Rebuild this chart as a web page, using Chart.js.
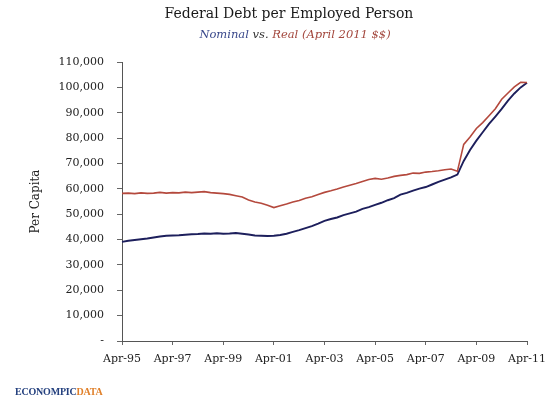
<!DOCTYPE html>
<html>
<head>
<meta charset="utf-8">
<title>Federal Debt per Employed Person</title>
<script src="https://cdn.jsdelivr.net/npm/chart.js@4.4.1/dist/chart.umd.min.js"></script>
<style>
  body { margin: 0; background: #fff; }
  #wrap { position: relative; width: 548px; height: 402px; overflow: hidden; }
  #chart { position: absolute; left: 0; top: 0; }
  .txt { position: absolute; white-space: nowrap; font-family: "DejaVu Serif", serif; }
  #title { left: 0; width: 578px; top: 5px; text-align: center; font-size: 14px; color: #1a1a1a; }
  #subtitle { left: 0; width: 590px; top: 27px; text-align: center; font-size: 11.5px; font-style: italic; color: #333; }
  #subtitle .nom { color: #3b4a8c; }
  #subtitle .real { color: #a3473d; }
  #logo { left: 15px; top: 386px; font-family: "Liberation Serif", serif; font-weight: bold; font-size: 10px; letter-spacing: -0.2px; color: #24407e; }
  #logo .data { color: #e0802a; }
</style>
</head>
<body>
<div id="wrap">
  <canvas id="chart" width="548" height="402"></canvas>
  <div class="txt" id="title">Federal Debt per Employed Person</div>
  <div class="txt" id="subtitle"><span class="nom">Nominal</span> vs. <span class="real">Real (April 2011 $$)</span></div>
  <div class="txt" id="logo">ECONOMPIC<span class="data">DATA</span></div>
</div>

<script>
// --- DATA (quarterly) ---
const months = ["Apr", "Jul", "Oct", "Jan"];
const labels = [];
for (let i = 0; i <= 64; i++) {
  const m = months[i % 4];
  const yr = 95 + Math.floor((i + 3) / 4);
  labels.push(m + "-" + String(yr % 100).padStart(2, "0"));
}

const nominal = [
  39100, 39500, 39800, 40100, 40400, 40800, 41200, 41500,
  41600, 41700, 41900, 42100, 42200, 42400, 42300, 42500,
  42300, 42400, 42600, 42300, 42000, 41600, 41500, 41400,
  41500, 41800, 42300, 43000, 43700, 44500, 45300, 46300,
  47400, 48100, 48700, 49600, 50300, 51000, 52100, 52800,
  53700, 54500, 55500, 56300, 57700, 58400, 59300, 60100,
  60700, 61700, 62700, 63600, 64500, 65600, 71000, 75300,
  79000, 82300, 85600, 88500, 91500, 94800, 97600, 100000,
  101800,
];

const real = [
  58200, 58300, 58100, 58400, 58200, 58300, 58600, 58300,
  58500, 58400, 58700, 58500, 58700, 58900, 58500, 58300,
  58100, 57800, 57300, 56800, 55600, 54800, 54300, 53500,
  52600, 53300, 54000, 54800, 55400, 56300, 56900, 57800,
  58600, 59200, 59900, 60700, 61400, 62100, 62900, 63700,
  64100, 63800, 64300, 64900, 65300, 65600, 66200, 66100,
  66600, 66800, 67100, 67500, 67800, 66900, 77500, 80400,
  83800, 86100, 88800, 91600, 95300, 97800, 100200, 102000,
  101900,
];

const yMax = 110000;
const yStep = 10000;

const tickFont = { family: "DejaVu Serif", size: 11 };

new Chart(document.getElementById("chart"), {
  type: "line",
  data: {
    labels: labels,
    datasets: [
      {
        label: "Real",
        data: real,
        borderColor: "#b4493d",
        borderWidth: 1.6,
        pointRadius: 0,
        tension: 0,
      },
      {
        label: "Nominal",
        data: nominal,
        borderColor: "#1d1f5c",
        borderWidth: 1.9,
        pointRadius: 0,
        tension: 0,
      },
    ],
  },
  options: {
    responsive: false,
    animation: false,
    layout: { padding: { left: 29, right: 21, top: 62, bottom: 31 } },
    plugins: {
      legend: { display: false },
      tooltip: { enabled: false },
    },
    scales: {
      x: {
        grid: { drawOnChartArea: false, tickLength: 4, color: "#666" },
        border: { color: "#555", width: 1 },
        ticks: {
          autoSkip: false,
          maxRotation: 0,
          padding: 8,
          color: "#222",
          font: tickFont,
          callback: function (value, index) {
            return index % 8 === 0 ? this.getLabelForValue(value) : null;
          },
        },
        afterFit: (s) => {
          s.height = 30;
          s.paddingLeft = 0;
          s.paddingRight = 0;
        },
      },
      y: {
        min: 0,
        max: yMax,
        grid: { drawOnChartArea: false, tickLength: 5, color: "#666" },
        border: { color: "#555", width: 1 },
        ticks: {
          stepSize: yStep,
          padding: 13,
          color: "#222",
          font: tickFont,
          callback: (v) => (v === 0 ? "-" : v.toLocaleString("en-US")),
        },
        title: {
          display: true,
          text: "Per Capita",
          color: "#222",
          font: { family: "DejaVu Serif", size: 12 },
          padding: 0,
        },
        afterFit: (s) => { s.width = 93; },
      },
    },
  },
});
</script>
</body>
</html>
